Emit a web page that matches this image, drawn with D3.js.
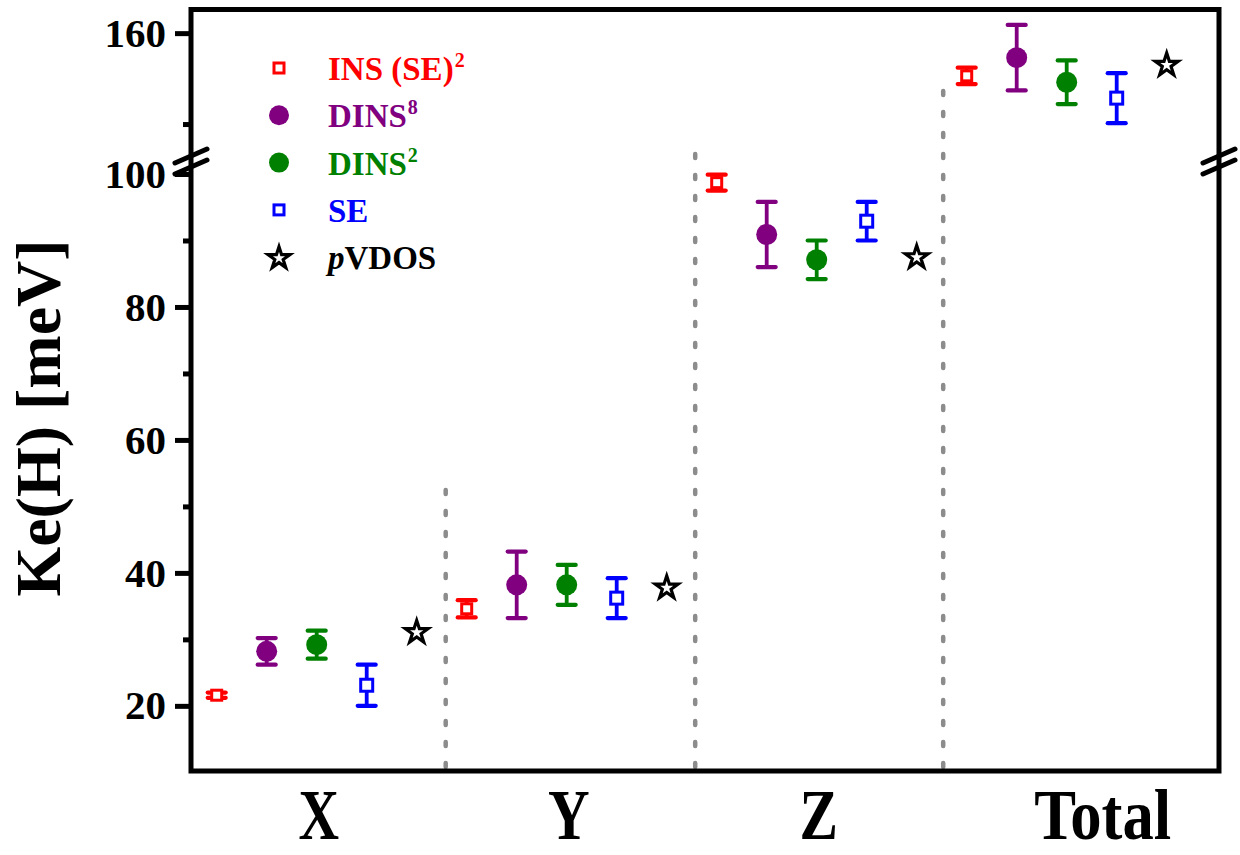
<!DOCTYPE html>
<html><head><meta charset="utf-8">
<script src="https://cdn.jsdelivr.net/npm/d3@7"></script>
<style>
body{margin:0;background:#fff}
svg{display:block}
text{font-family:"Liberation Serif","Times New Roman",serif;font-weight:bold}
</style>
</head><body>
<svg id="c" width="1240" height="855"></svg>
<script>
// ---- data ----
const categories = ["X", "Y", "Z", "Total"];
const seriesNames = ["INS (SE)", "DINS", "DINS", "SE", "pVDOS"];
const seriesSup = ["2", "8", "2", "", ""];
const insSE    = [21.6, 34.6, 98.7, 155.3];
const insSEErr = [0.4, 1.3, 1.2, 0.9];
const dins8    = [28.2, 38.2, 90.9, 157.3];
const dins8Err = [2.0, 5.0, 4.9, 3.6];
const dins2    = [29.2, 38.2, 87.1, 154.6];
const dins2Err = [2.1, 3.0, 2.9, 2.4];
const se       = [23.1, 36.2, 92.9, 152.85];
const seErr    = [3.1, 3.0, 2.9, 2.75];
const pvdos    = [31.2, 37.9, 87.6, 156.6];
const lowerTicks = [20, 40, 60, 80, 100];
const lowerMinor = [30, 50, 70, 90];
const upperTicks = [160];
const upperMinor = [150];
const dividerAt  = [4.58, 9.57, 14.53];
const dividerTop = [53, 146.9, 153.7];

// ---- styles ----
const seriesStyle = [
  {color: "#ff0000", shape: "square", size: 10},
  {color: "#800080", shape: "circle", size: 10.5},
  {color: "#008000", shape: "circle", size: 10.5},
  {color: "#0000ff", shape: "square", size: 12},
  {color: "#000000", shape: "star", size: 12}
];
const seriesVals = [insSE, dins8, dins2, se, pvdos];
const seriesErrs = [insSEErr, dins8Err, dins2Err, seErr, null];

const svg = d3.select("#c");
const L = 191, R = 1219, T = 9.5, B = 771;

const x = d3.scaleLinear().domain([-0.514, 20.046]).range([L, R]);
const yLow = d3.scaleLinear().domain([10.2, 100]).range([B, 174]);
const yUp = d3.scaleLinear().domain([146, 162.6]).range([160.4, T]);
const yPos = v => v > 100 ? yUp(v) : yLow(v);

// dividers
dividerAt.forEach((d, i) => {
  svg.append("line")
    .attr("x1", x(d)).attr("x2", x(d))
    .attr("y1", B - 4).attr("y2", yPos(dividerTop[i]))
    .attr("stroke", "#8c8c8c").attr("stroke-width", 4.5)
    .attr("stroke-linecap", "round")
    .attr("stroke-dasharray", "4 17");
});

// markers
function drawMarker(g, st, cx, cy) {
  const s = st.size;
  if (st.shape === "square") {
    g.append("rect").attr("x", cx - s / 2).attr("y", cy - s / 2)
      .attr("width", s).attr("height", s)
      .attr("fill", "#fff").attr("stroke", st.color).attr("stroke-width", 3);
  } else if (st.shape === "circle") {
    g.append("circle").attr("cx", cx).attr("cy", cy).attr("r", s)
      .attr("fill", st.color);
  } else {
    const area = (s * s) / 0.8908130915292852;
    g.append("path").attr("d", d3.symbol(d3.symbolStar, area)())
      .attr("transform", `translate(${cx},${cy + 1})`)
      .attr("fill", "#fff").attr("stroke", st.color)
      .attr("stroke-width", 3.2).attr("stroke-linejoin", "miter");
  }
}

const gData = svg.append("g");
seriesVals.forEach((vals, si) => {
  const st = seriesStyle[si];
  vals.forEach((v, ci) => {
    const cx = x(ci * 5 + si);
    const cy = yPos(v);
    const errs = seriesErrs[si];
    if (errs) {
      const e = errs[ci];
      const y1 = yPos(v + e), y2 = yPos(v - e);
      gData.append("line").attr("x1", cx).attr("x2", cx).attr("y1", y1).attr("y2", y2)
        .attr("stroke", st.color).attr("stroke-width", 3.8);
      [y1, y2].forEach(yy => {
        gData.append("line").attr("x1", cx - 9).attr("x2", cx + 9).attr("y1", yy).attr("y2", yy)
          .attr("stroke", st.color).attr("stroke-width", 4.2).attr("stroke-linecap", "round");
      });
    }
    drawMarker(gData, st, cx, cy);
  });
});

// axes ticks
function styleAxis(g, fs) {
  g.select(".domain").remove();
  g.selectAll(".tick line").attr("stroke", "#000").attr("stroke-width", 5);
  g.selectAll(".tick text").attr("font-size", fs).attr("fill", "#000")
    .attr("font-family", '"Liberation Serif","Times New Roman",serif').attr("font-weight", "bold");
}
const ax1 = svg.append("g").attr("transform", `translate(${L},0)`)
  .call(d3.axisLeft(yLow).tickValues(lowerTicks).tickSize(16).tickPadding(9));
styleAxis(ax1, 41);
const ax2 = svg.append("g").attr("transform", `translate(${L},0)`)
  .call(d3.axisLeft(yLow).tickValues(lowerMinor).tickSize(8).tickFormat(""));
styleAxis(ax2, 41);
const ax3 = svg.append("g").attr("transform", `translate(${L},0)`)
  .call(d3.axisLeft(yUp).tickValues(upperTicks).tickSize(16).tickPadding(9));
styleAxis(ax3, 41);
const ax4 = svg.append("g").attr("transform", `translate(${L},0)`)
  .call(d3.axisLeft(yUp).tickValues(upperMinor).tickSize(8).tickFormat(""));
styleAxis(ax4, 41);

// frame
svg.append("path")
  .attr("d", `M${L},${T}H${R}V${B}H${L}Z`)
  .attr("fill", "none").attr("stroke", "#000").attr("stroke-width", 5)
  .attr("stroke-linejoin", "miter");

// break marks
[L, R].forEach(ax => {
  [156, 167].forEach(by => {
    svg.append("line")
      .attr("x1", ax - 16).attr("y1", by + 7)
      .attr("x2", ax + 16).attr("y2", by - 7)
      .attr("stroke", "#000").attr("stroke-width", 5).attr("stroke-linecap", "round");
  });
});

// category labels
const catX = categories.map((c, i) => x(i * 5 + 2) + (i === 3 ? 36 : 2));
const catSX = [0.78, 0.8, 0.8, 0.87];
categories.forEach((c, i) => {
  svg.append("text")
    .attr("transform", `translate(${catX[i]},839) scale(${catSX[i]},1)`)
    .attr("text-anchor", "middle").attr("font-size", 72).attr("fill", "#000")
    .text(c);
});

// y axis title
svg.append("text")
  .attr("transform", "translate(60,418) rotate(-90)")
  .attr("text-anchor", "middle").attr("font-size", 64).attr("fill", "#000")
  .text("Ke(H) [meV]");

// legend
const legX = 279, legY0 = 68, legDY = 47.3;
seriesNames.forEach((n, i) => {
  const st = seriesStyle[i];
  const cy = legY0 + i * legDY;
  const lst = Object.assign({}, st);
  if (st.shape === "square") lst.size = 10;
  if (st.shape === "circle") lst.size = 10;
  if (st.shape === "star") lst.size = 11.5;
  drawMarker(svg, lst, legX, cy);
  const t = svg.append("text").attr("x", 328).attr("y", cy + 12)
    .attr("font-size", 33).attr("fill", st.color);
  if (n === "pVDOS") {
    t.append("tspan").attr("font-style", "italic").text("p");
    t.append("tspan").text("VDOS");
  } else {
    t.append("tspan").text(n);
    if (seriesSup[i]) {
      t.append("tspan").attr("font-size", 20).attr("dy", -13).attr("dx", 1).text(seriesSup[i]);
    }
  }
});
</script>
</body></html>
